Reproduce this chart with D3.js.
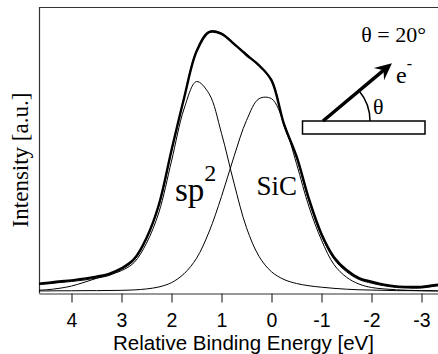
<!DOCTYPE html>
<html>
<head>
<meta charset="utf-8">
<script src="https://cdn.jsdelivr.net/npm/d3@7"></script>
<style>
  body { margin: 0; background: #fff; }
</style>
</head>
<body>
<div id="chart"></div>
<script>
// relative binding energy grid (eV) and intensities (a.u.)
const energy = [4.75, 4.5, 4.25, 4.0, 3.75, 3.5, 3.25, 3.0, 2.75, 2.5, 2.25, 2.0, 1.75, 1.5, 1.25, 1.0, 0.75, 0.5, 0.25, 0,
                -0.25, -0.5, -0.75, -1.0, -1.25, -1.5, -1.75, -2.0, -2.25, -2.5, -2.75, -3.0, -3.25, -3.5];
const fitTotal = [3.3, 3.7, 4.2, 4.6, 5.2, 5.9, 6.9, 8.8, 12.0, 19.4, 31.2, 50.1, 68.2, 84.6, 91.4, 90.8, 87.3, 83.4, 79.8, 74.5,
                  59.2, 48.0, 33.0, 20.8, 12.7, 8.2, 5.4, 4.1, 3.1, 2.5, 2.3, 2.3, 2.9, 3.3];
const measured = [3.0, 3.3, 3.8, 4.2, 4.7, 5.4, 6.3, 8.4, 11.6, 19.1, 30.8, 49.8, 68.4, 84.9, 91.6, 91.1, 87.0, 83.9, 79.4, 74.9,
                  58.6, 47.4, 32.2, 20.1, 12.0, 7.6, 4.9, 3.6, 2.7, 2.1, 1.9, 1.9, 2.5, 3.0];
const sp2Peak = [1.1, 1.3, 1.8, 2.6, 3.9, 5.3, 6.6, 8.0, 10.8, 17.6, 28.5, 46.3, 64.5, 74.1, 69.9, 56.0, 38.6, 23.0, 13.0, 7.6,
                 4.9, 3.5, 2.7, 2.2, 1.8, 1.5, 1.3, 1.2, 1.1, 1.0, 1.0, 0.95, 0.9, 0.9];
const sicPeak = [0.9, 0.9, 0.95, 0.95, 1.0, 1.0, 1.05, 1.1, 1.25, 1.6, 2.3, 3.8, 6.9, 12.3, 21.5, 33.9, 47.9, 60.5, 68.1, 68.1,
                 59.6, 45.4, 30.3, 18.7, 10.1, 5.7, 3.3, 2.1, 1.6, 1.3, 1.1, 1.0, 0.95, 0.9];
const xTicks = [4, 3, 2, 1, 0, -1, -2, -3];

var w = 438;
var h = 354;
const padL = 39, padR = 438, padT = 7.5, axisY = 293.5;
const serif = "'Liberation Serif', 'Times New Roman', serif";
const sans = "'Liberation Sans', Arial, sans-serif";

const svg = d3.select("#chart")
  .append("svg")
  .attr("width", w)
  .attr("height", h);

var x = d3.scaleLinear().domain([4.65, -3.33]).range([padL, padR]);
var y = d3.scaleLinear().domain([0, 100]).range([axisY, padT]);

svg.append("clipPath").attr("id", "plot")
  .append("rect").attr("x", padL).attr("y", padT).attr("width", padR - padL).attr("height", axisY - padT);

// frame
svg.append("path")
  .attr("d", `M${padL + 0.5},${axisY} V${padT} H${w + 5}`)
  .attr("fill", "none").attr("stroke", "#333").attr("stroke-width", 1.2);

var xAxis = d3.axisBottom(x)
  .tickValues(xTicks)
  .tickSize(9)
  .tickSizeOuter(0)
  .tickFormat(d => String(d));

var xAxisGroup = svg.append("g")
  .attr("transform", `translate(0, ${axisY})`)
  .call(xAxis);
xAxisGroup.select(".domain").attr("stroke", "#333").attr("stroke-width", 1.2);
xAxisGroup.selectAll(".tick line").attr("stroke", "#333").attr("stroke-width", 1.2);
xAxisGroup.selectAll(".tick text")
  .attr("y", 33.5)
  .attr("dy", 0)
  .style("font-family", sans)
  .style("font-size", "19.5px")
  .attr("fill", "#000");

svg.append("text")
  .attr("x", (padL + padR) / 2 + 5)
  .attr("y", 349.5)
  .attr("text-anchor", "middle")
  .style("font-family", sans)
  .style("font-size", "20.5px")
  .text("Relative Binding Energy [eV]");

svg.append("text")
  .attr("transform", `translate(28, 160) rotate(-90)`)
  .attr("text-anchor", "middle")
  .style("font-family", serif)
  .style("font-size", "23px")
  .text("Intensity [a.u.]");

// curves
const pts = vals => energy.map((e, i) => [e, vals[i]]);
const line = d3.line()
  .x(d => x(d[0]))
  .y(d => y(d[1]))
  .curve(d3.curveCatmullRom.alpha(0.5));

const curves = svg.append("g").attr("clip-path", "url(#plot)");
[[sicPeak, 1], [sp2Peak, 1], [measured, 1], [fitTotal, 2.4]].forEach(function(c) {
  curves.append("path")
    .attr("d", line(pts(c[0])))
    .attr("fill", "none")
    .attr("stroke", "#000")
    .attr("stroke-width", c[1]);
});

// peak labels
const sp2Label = svg.append("text")
  .attr("x", x(1.93))
  .attr("y", y(32.5))
  .style("font-family", serif)
  .style("font-size", "33px");
sp2Label.append("tspan").text("sp");
sp2Label.append("tspan").attr("dy", -20).style("font-size", "24px").text("2");

svg.append("text")
  .attr("x", x(0.3))
  .attr("y", y(34.5))
  .style("font-family", serif)
  .style("font-size", "27px")
  .text("SiC");

// geometry inset
svg.append("text")
  .attr("x", 426)
  .attr("y", 42)
  .attr("text-anchor", "end")
  .style("font-family", serif)
  .style("font-size", "22px")
  .text("\u03b8 = 20\u00b0");

svg.append("rect")
  .attr("x", 302.5).attr("y", 121)
  .attr("width", 122.5).attr("height", 13)
  .attr("fill", "#fff").attr("stroke", "#000").attr("stroke-width", 1.5);

const ax0 = 323, ay0 = 121, ang = 40 * Math.PI / 180, len = 90;
const tipX = ax0 + len * Math.cos(ang), tipY = ay0 - len * Math.sin(ang);
const ux = Math.cos(ang), uy = -Math.sin(ang), nx = Math.sin(ang), ny = Math.cos(ang);
svg.append("line")
  .attr("x1", ax0).attr("y1", ay0)
  .attr("x2", tipX - 8 * ux).attr("y2", tipY - 8 * uy)
  .attr("stroke", "#000").attr("stroke-width", 3.5);
const head = [
  [tipX, tipY],
  [tipX - 17 * ux + 8 * nx, tipY - 17 * uy + 8 * ny],
  [tipX - 11 * ux, tipY - 11 * uy],
  [tipX - 17 * ux - 8 * nx, tipY - 17 * uy - 8 * ny]
];
svg.append("path").attr("d", "M" + head.join("L") + "Z").attr("fill", "#000");

const arc = d3.arc()
  .innerRadius(47).outerRadius(47)
  .startAngle(Math.PI / 2 - ang).endAngle(Math.PI / 2);
svg.append("path")
  .attr("transform", `translate(${ax0},${ay0})`)
  .attr("d", arc())
  .attr("fill", "none").attr("stroke", "#000").attr("stroke-width", 1.5);

svg.append("text")
  .attr("x", 373).attr("y", 114)
  .style("font-family", serif)
  .style("font-size", "22px")
  .text("\u03b8");

const eLabel = svg.append("text")
  .attr("x", 396).attr("y", 83)
  .style("font-family", serif)
  .style("font-size", "24px");
eLabel.append("tspan").text("e");
eLabel.append("tspan").attr("dy", -14).style("font-size", "16px").text("-");
</script>
</body>
</html>
